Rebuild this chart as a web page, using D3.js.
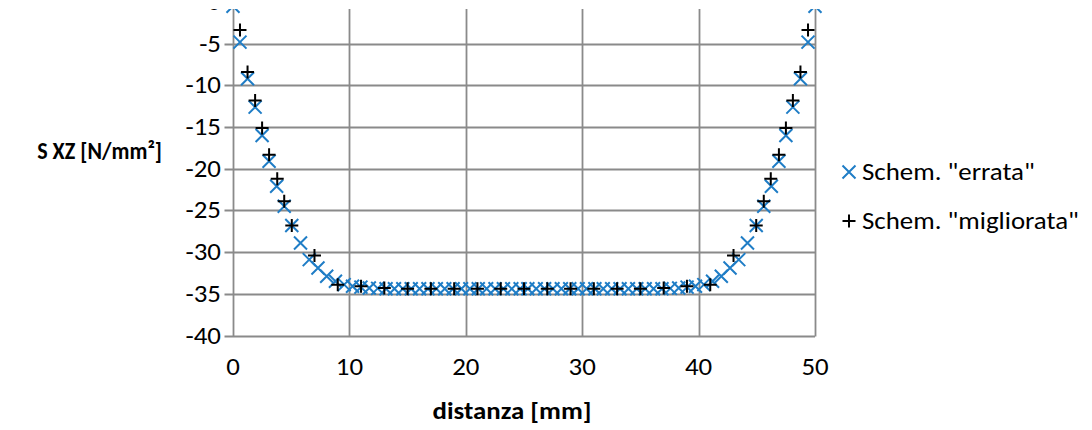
<!DOCTYPE html>
<html>
<head>
<meta charset="utf-8">
<script src="https://cdn.jsdelivr.net/npm/d3@7"></script>
<style>
  html, body { margin: 0; padding: 0; background: #fff; }
  svg { display: block; font-family: Carlito, Calibri, Lato, sans-serif; }
</style>
</head>
<body>
<svg id="chart" width="1092" height="430"></svg>
<script>
// Shear stress S XZ along the section, two schematisations
const errataX = [0, 0.6, 1.25, 1.9, 2.5, 3.1, 3.75, 4.4, 5.05, 5.8, 6.55, 7.3, 8.05, 8.8,
  9.55, 10.27, 10.99, 11.71, 12.43, 13.15, 13.87, 14.59, 15.31, 16.03, 16.75, 17.47, 18.19,
  18.91, 19.63, 20.35, 21.07, 21.79, 22.51, 23.23, 23.95, 24.67, 25.33, 26.05, 26.77, 27.49,
  28.21, 28.93, 29.65, 30.37, 31.09, 31.81, 32.53, 33.25, 33.97, 34.69, 35.41, 36.13, 36.85,
  37.57, 38.29, 39.01, 39.73, 40.45,
  41.2, 41.95, 42.7, 43.45, 44.2, 44.95, 45.6, 46.25, 46.9, 47.5, 48.1, 48.75, 49.4, 50];
const errataY = [-0.5, -4.8, -9.2, -12.6, -16.0, -19.1, -22.1, -24.5, -26.8, -28.9, -30.9, -31.9, -32.9, -33.5,
  -33.9, -34.1, -34.2, -34.3, -34.35, -34.4, -34.4, -34.4, -34.4, -34.4, -34.4, -34.4, -34.4,
  -34.4, -34.4, -34.4, -34.4, -34.4, -34.4, -34.4, -34.4, -34.4, -34.4, -34.4, -34.4, -34.4,
  -34.4, -34.4, -34.4, -34.4, -34.4, -34.4, -34.4, -34.4, -34.4, -34.4, -34.4, -34.4, -34.4,
  -34.35, -34.3, -34.2, -34.1, -33.9,
  -33.5, -32.9, -31.9, -30.9, -28.9, -26.8, -24.5, -22.1, -19.1, -16.0, -12.6, -9.2, -4.8, -0.5];

const miglX = [0.6, 1.25, 1.9, 2.5, 3.1, 3.8, 4.4, 5.05, 7, 9, 11, 13, 15, 17, 19, 21, 23, 25,
  27, 29, 31, 33, 35, 37, 39, 41, 43, 44.95, 45.6, 46.2, 46.9, 47.5, 48.1, 48.75, 49.4];
const miglY = [-3.35, -8.4, -11.8, -15.1, -18.3, -21.2, -23.9, -26.8, -30.4, -33.9, -34.1, -34.3,
  -34.4, -34.4, -34.4, -34.4, -34.4, -34.4, -34.4, -34.4, -34.4, -34.4, -34.4, -34.3, -34.1,
  -33.9, -30.4, -26.8, -23.9, -21.2, -18.3, -15.1, -11.8, -8.4, -3.35];

const xTicks = [0, 10, 20, 30, 40, 50];
const yTicks = [-40, -35, -30, -25, -20, -15, -10, -5, 0];
const seriesNames = ['Schem. "errata"', 'Schem. "migliorata"'];
const xTitle = 'distanza [mm]';
const yTitle = 'S XZ [N/mm²]';

const svg = d3.select('#chart');
const plotLeft = 233, plotRight = 815, plotTop = 2.1, plotBottom = 335.5;
const x = d3.scaleLinear().domain([0, 50]).range([plotLeft, plotRight]);
const y = d3.scaleLinear().domain([-40, 0]).range([plotBottom, plotTop]);

const gridColor = '#8a8a8a';
const blue = '#1f7dc6';
const fontSize = 24;
const stretch = 1.12;

// text helper: wide-set glyphs like the original office font
function label(parent, tx, ty, str, anchor, bold, size = fontSize, sx = stretch) {
  return parent.append('text')
    .attr('transform', `translate(${tx},${ty}) scale(${sx},1)`)
    .attr('text-anchor', anchor).attr('dominant-baseline', 'central')
    .attr('font-size', size).attr('font-weight', bold ? 'bold' : 'normal')
    .attr('fill', '#000').text(str);
}

svg.append('defs').append('clipPath').attr('id', 'cut')
  .append('rect').attr('x', 0).attr('y', 9).attr('width', 1092).attr('height', 421);

const g = svg.append('g').attr('clip-path', 'url(#cut)');

// horizontal gridlines with short outward ticks
g.append('g').selectAll('line').data(yTicks).join('line')
  .attr('x1', plotLeft - 8.5).attr('x2', plotRight)
  .attr('y1', d => Math.round(y(d)) + 0.5).attr('y2', d => Math.round(y(d)) + 0.5)
  .attr('stroke', gridColor).attr('stroke-width', 1.8);

// vertical gridlines
g.append('g').selectAll('line').data(xTicks).join('line')
  .attr('x1', d => Math.round(x(d)) + 0.5).attr('x2', d => Math.round(x(d)) + 0.5)
  .attr('y1', plotTop).attr('y2', Math.round(plotBottom) + 0.5)
  .attr('stroke', gridColor).attr('stroke-width', 1.8);

// tick labels
yTicks.forEach(d => label(g, plotLeft - 12, y(d), d, 'end', false));
xTicks.forEach(d => label(g, x(d), 367, d, 'middle', false));

// axis titles
label(g, 512, 411, xTitle, 'middle', true);
label(g, 162, 151, yTitle, 'end', true, 24, 0.92);

// marker shapes
const half = 6.5;
const crossPath = `M${-half},${-half}L${half},${half}M${-half},${half}L${half},${-half}`;
const plusPath = `M${-half},0L${half},0M0,${-half}L0,${half}`;

const errata = errataX.map((v, i) => ({ x: v, y: errataY[i] }));
const migl = miglX.map((v, i) => ({ x: v, y: miglY[i] }));

g.append('g').selectAll('path').data(errata).join('path')
  .attr('transform', d => `translate(${x(d.x)},${y(d.y)})`)
  .attr('d', crossPath).attr('stroke', blue).attr('stroke-width', 2).attr('fill', 'none');

g.append('g').selectAll('path').data(migl).join('path')
  .attr('transform', d => `translate(${x(d.x)},${y(d.y)})`)
  .attr('d', plusPath).attr('stroke', '#000').attr('stroke-width', 2).attr('fill', 'none');

// legend
const legend = svg.append('g');
const legendRows = [
  { name: seriesNames[0], path: crossPath, color: blue, cy: 172 },
  { name: seriesNames[1], path: plusPath, color: '#000', cy: 221 }
];
legendRows.forEach(r => {
  legend.append('path').attr('transform', `translate(849,${r.cy})`)
    .attr('d', r.path).attr('stroke', r.color).attr('stroke-width', 2).attr('fill', 'none');
  label(legend, 862, r.cy, r.name, 'start', false);
});
</script>
</body>
</html>
